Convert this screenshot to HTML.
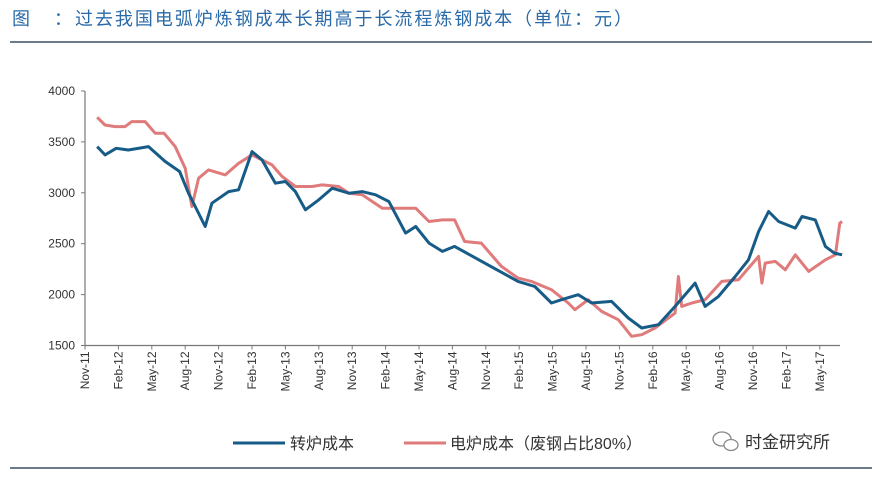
<!DOCTYPE html>
<html><head><meta charset="utf-8"><style>
body{margin:0;background:#fff;font-family:"Liberation Sans","Noto Sans CJK SC",sans-serif;}
#wrap{position:relative;width:882px;height:480px;overflow:hidden;}
</style></head><body>
<div id="wrap">
<svg id="svg" width="882" height="480" xmlns="http://www.w3.org/2000/svg">
<g font-size="18" fill="#2a6aa8" font-family="Liberation Sans,Noto Sans CJK SC,sans-serif">
<text x="12" y="25">图</text>
<text x="54" y="25">：</text>
<text x="75" y="25" textLength="557" lengthAdjust="spacing">过去我国电弧炉炼钢成本长期高于长流程炼钢成本（单位：元）</text>
</g>
<line x1="10" y1="42" x2="872" y2="42" stroke="#3d4f66" stroke-width="1.5"/>
<line x1="10" y1="468" x2="872" y2="468" stroke="#3d4f66" stroke-width="1.5"/>
<g id="axes"></g>
<g id="series"></g>
<g>
<line x1="233" y1="443" x2="285" y2="443" stroke="#175b87" stroke-width="3"/>
<text x="290" y="449" font-size="16" fill="#333">转炉成本</text>
<line x1="404" y1="443" x2="446" y2="443" stroke="#e07b7b" stroke-width="3"/>
<text x="450" y="449" font-size="16" fill="#333">电炉成本（废钢占比80%）</text>
</g>
<g>
<ellipse cx="722" cy="439" rx="9" ry="7" fill="none" stroke="#888" stroke-width="1.3"/>
<ellipse cx="731" cy="445" rx="7" ry="5.5" fill="#fff" stroke="#888" stroke-width="1.3"/>
<text x="745" y="448" font-size="17" fill="#333">时金研究所</text>
</g>
</svg>
</div>
<script>
const yTicks=[1500,2000,2500,3000,3500,4000];
const xTickLabels=["Nov-11","Feb-12","May-12","Aug-12","Nov-12","Feb-13","May-13","Aug-13","Nov-13","Feb-14","May-14","Aug-14","Nov-14","Feb-15","May-15","Aug-15","Nov-15","Feb-16","May-16","Aug-16","Nov-16","Feb-17","May-17"];
// month index (0 = Nov-11) and values
const converterMonths=[1.1,1.8,2.8,3.9,5.7,7.2,8.5,9.3,9.9,10.8,11.4,12.9,13.8,15.0,15.9,17.1,18.0,18.9,19.8,21.0,22.2,23.7,24.9,26.1,27.3,28.8,29.7,30.9,32.1,33.2,35.9,38.9,40.4,41.9,42.8,44.3,45.5,47.3,48.8,50.0,51.5,53.0,54.8,55.7,56.9,58.4,59.6,60.5,61.4,62.3,63.8,64.4,65.6,66.5,67.3,68.0];
const converterCost=[3454,3372,3437,3420,3454,3307,3209,2996,2865,2669,2898,3012,3029,3405,3323,3094,3111,3012,2833,2931,3045,2996,3012,2980,2914,2604,2669,2506,2424,2473,2309,2130,2080,1917,1950,1999,1917,1933,1770,1672,1704,1884,2113,1884,1982,2178,2342,2620,2816,2718,2653,2767,2734,2473,2408,2391];
const eafMonths=[1.1,1.8,2.7,3.6,4.2,5.4,6.3,7.1,8.1,9.0,9.6,10.2,11.1,12.6,13.8,15.0,16.8,17.7,18.9,20.4,21.3,22.8,23.7,24.9,26.7,27.9,29.7,30.9,32.1,33.2,34.1,35.6,37.4,38.9,40.1,41.9,43.4,44.0,45.2,46.4,47.9,49.1,50.0,51.2,53.0,53.3,53.6,54.5,55.7,57.2,58.7,60.5,60.8,61.1,62.0,62.9,63.8,65.0,66.5,67.4,67.8,68.0];
const eafCost=[3742,3666,3650,3650,3699,3699,3585,3585,3454,3241,2865,3143,3225,3176,3290,3372,3274,3160,3062,3062,3078,3062,2996,2980,2849,2849,2849,2718,2734,2734,2522,2506,2277,2162,2130,2048,1917,1852,1950,1835,1753,1590,1606,1672,1819,2178,1884,1917,1950,2130,2146,2375,2113,2309,2326,2244,2391,2228,2342,2391,2702,2718];

const NS="http://www.w3.org/2000/svg";
const X0=85,PERM=33.4/3,AXEND=840,Y0=345.5,YTOP=91;
function xs(m){return X0+m*PERM;}
function ys(v){return Y0-(v-1500)*(Y0-YTOP)/2500;}
const axes=document.getElementById('axes'),series=document.getElementById('series');
function mk(tag,attrs,parent){const e=document.createElementNS(NS,tag);for(const k in attrs)e.setAttribute(k,attrs[k]);parent.appendChild(e);return e;}
let yl=mk('line',{x1:X0,y1:YTOP,x2:X0,y2:Y0,stroke:'#777','stroke-width':1.2},axes);


let xl=mk('line',{x1:X0,y1:Y0,x2:AXEND,y2:Y0,stroke:'#777','stroke-width':1.2},axes);


yTicks.forEach(v=>{
  const t=mk('line',{x1:X0-4,y1:ys(v),x2:X0,y2:ys(v),stroke:'#777'},axes);
  
  
  const l=mk('text',{x:X0-10,y:ys(v)+4,'font-size':12,fill:'#333','text-anchor':'end'},axes);
  l.textContent=v;
  
  
});
xTickLabels.forEach((s,i)=>{
  const x=xs(i*3);
  const t=mk('line',{x1:x,y1:Y0,x2:x,y2:Y0+4,stroke:'#777'},axes);
  
  
  const l=mk('text',{x:0,y:0,'font-size':12,fill:'#333','text-anchor':'end',transform:`translate(${x+4},${Y0+6}) rotate(-90)`},axes);
  l.textContent=s;
  
  
});
function line(ms,vs,color,name){
  const d=ms.map((m,i)=>(i?'L':'M')+xs(m).toFixed(1)+','+ys(vs[i]).toFixed(1)).join('');
  const p=mk('path',{d:d,fill:'none',stroke:color,'stroke-width':3,'stroke-linejoin':'round'},series);
  
  
}
line(eafMonths,eafCost,'#e07b7b','eaf-cost-line');
line(converterMonths,converterCost,'#175b87','converter-cost-line');
</script>
</body></html>
